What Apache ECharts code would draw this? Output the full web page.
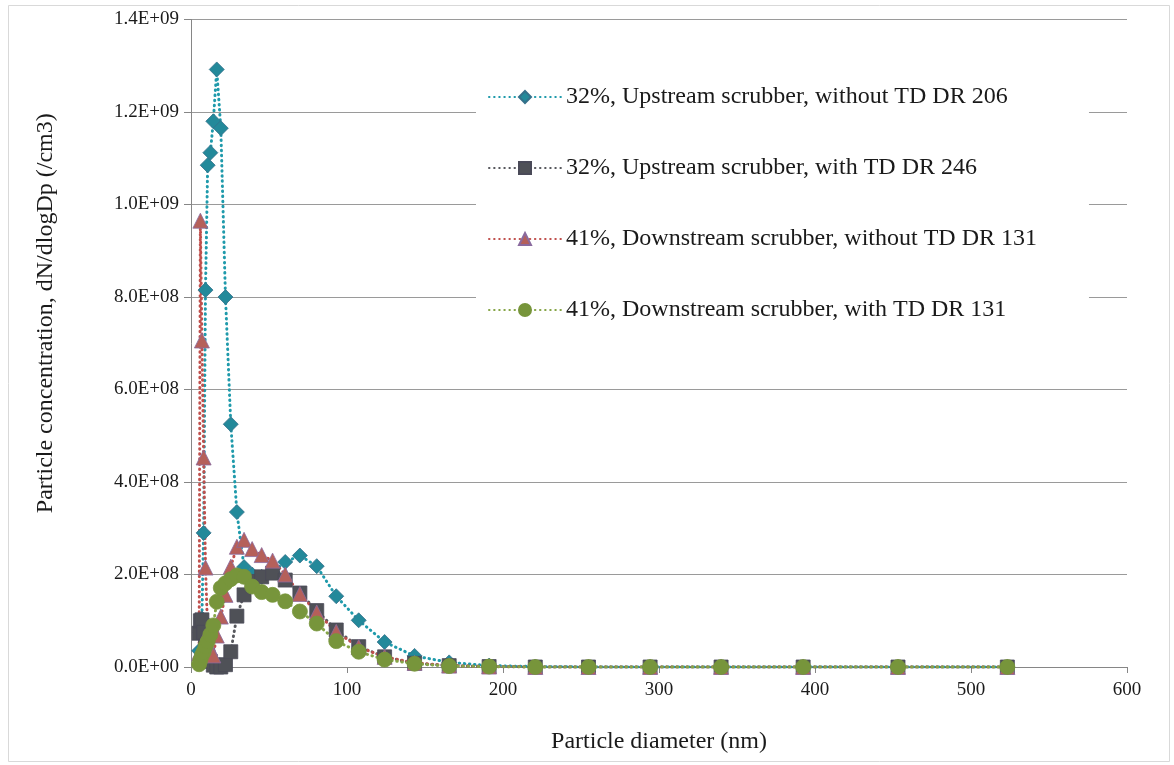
<!DOCTYPE html>
<html>
<head>
<meta charset="utf-8">
<script src="https://cdn.jsdelivr.net/npm/echarts@6/dist/echarts.min.js"></script>
<style>
  html, body { margin: 0; padding: 0; background: #ffffff; }
  #chart { width: 1174px; height: 765px; }
</style>
</head>
<body>
<div id="chart"></div>
<script>
// Particle diameter bins (nm), 16 channels per decade
const diameters = [5.2, 6.0, 7.0, 8.1, 9.3, 10.7, 12.4, 14.3, 16.5, 19.1, 22.1, 25.5, 29.4, 34.0,
  39.2, 45.3, 52.3, 60.4, 69.8, 80.6, 93.1, 107.5, 124.1, 143.3, 165.5, 191.1, 220.7, 254.8,
  294.3, 339.8, 392.4, 453.2, 523.3];

// dN/dlogDp (/cm3)
const upstreamWithoutTD = [0.35e8, 0.75e8, 1.05e8, 2.9e8, 8.15e8, 10.85e8, 11.12e8, 11.8e8, 12.92e8,
  11.65e8, 8.0e8, 5.25e8, 3.35e8, 2.16e8, 2.0e8, 1.95e8, 2.05e8, 2.27e8, 2.41e8, 2.18e8, 1.53e8,
  1.01e8, 0.54e8, 0.24e8, 0.1e8, 0.03e8, 0.01e8, 0, 0, 0, 0, 0, 0];
const upstreamWithTD = [0.73e8, 1.0e8, 1.02e8, 0.75e8, 0.45e8, 0.25e8, 0.12e8, 0.04e8, 0.0,
  0.0, 0.05e8, 0.33e8, 1.1e8, 1.56e8, 1.85e8, 1.95e8, 2.03e8, 1.88e8, 1.6e8, 1.22e8, 0.8e8,
  0.44e8, 0.22e8, 0.08e8, 0.03e8, 0.01e8, 0, 0, 0, 0, 0, 0, 0];
const downstreamWithoutTD = [0.3e8, 9.65e8, 7.06e8, 4.53e8, 2.15e8, 0.73e8, 0.4e8, 0.25e8, 0.68e8,
  1.09e8, 1.56e8, 2.17e8, 2.6e8, 2.75e8, 2.55e8, 2.42e8, 2.3e8, 2.0e8, 1.58e8, 1.18e8, 0.76e8,
  0.43e8, 0.22e8, 0.09e8, 0.03e8, 0.01e8, 0, 0, 0, 0, 0, 0, 0];
const downstreamWithTD = [0.06e8, 0.15e8, 0.25e8, 0.33e8, 0.45e8, 0.55e8, 0.7e8, 0.9e8, 1.41e8,
  1.71e8, 1.81e8, 1.9e8, 1.98e8, 1.95e8, 1.74e8, 1.62e8, 1.56e8, 1.42e8, 1.2e8, 0.94e8, 0.56e8,
  0.33e8, 0.16e8, 0.07e8, 0.02e8, 0.01e8, 0, 0, 0, 0, 0, 0, 0];

const seriesNames = [
  '32%, Upstream scrubber, without TD DR 206',
  '32%, Upstream scrubber, with TD DR 246',
  '41%, Downstream scrubber, without TD DR 131',
  '41%, Downstream scrubber, with TD DR 131'
];

const FONT = '"Liberation Serif", "DejaVu Serif", serif';
const TEXT_COLOR = '#1a1a1a';
const AXIS_GRAY = '#868686';

function pairs(values) {
  return diameters.map((d, i) => [d, values[i]]);
}

// 1.4E+09 style tick labels
function sci(v) {
  if (v === 0) return '0.0E+00';
  const e = Math.floor(Math.log10(v) + 1e-9);
  const m = v / Math.pow(10, e);
  return m.toFixed(1) + 'E+' + String(e).padStart(2, '0');
}

function dottedSeries(name, values, lineColor, symbol, size, fill, border) {
  return {
    name: name,
    type: 'line',
    data: pairs(values),
    symbol: symbol,
    symbolSize: size,
    showAllSymbol: true,
    lineStyle: { color: lineColor, width: 3, type: [0.5, 4.6], cap: 'round' },
    itemStyle: { color: fill, borderColor: border, borderWidth: 0.8 },
    emphasis: { disabled: true }
  };
}

const chart = echarts.init(document.getElementById('chart'), null, { renderer: 'canvas' });

chart.setOption({
  animation: false,
  backgroundColor: '#ffffff',
  graphic: [{
    type: 'rect',
    silent: true,
    z: -10,
    shape: { x: 8.5, y: 5.5, width: 1161, height: 756 },
    style: { fill: null, stroke: '#d9d9d9', lineWidth: 1 }
  }],
  grid: { left: 191, right: 47, top: 19.5, bottom: 98, containLabel: false },
  legend: {
    orient: 'vertical',
    left: 476,
    top: 72,
    itemWidth: 72,
    itemHeight: 15,
    itemGap: 45,
    padding: [12, 52, 12, 12],
    backgroundColor: '#ffffff',
    selectedMode: false,
    textStyle: { fontFamily: FONT, fontSize: 24, color: TEXT_COLOR, lineHeight: 26 },
    data: seriesNames
  },
  xAxis: {
    type: 'value',
    min: 0,
    max: 600,
    interval: 100,
    name: 'Particle diameter (nm)',
    nameLocation: 'middle',
    nameGap: 63,
    nameTextStyle: { fontFamily: FONT, fontSize: 24, color: TEXT_COLOR },
    axisLine: { show: true, lineStyle: { color: AXIS_GRAY, width: 1 } },
    axisTick: { show: true, inside: false, length: 6, lineStyle: { color: AXIS_GRAY } },
    axisLabel: { fontFamily: FONT, fontSize: 19, color: TEXT_COLOR, margin: 14 },
    splitLine: { show: false }
  },
  yAxis: {
    type: 'value',
    min: 0,
    max: 1.4e9,
    interval: 2e8,
    name: 'Particle concentration, dN/dlogDp (/cm3)',
    nameLocation: 'middle',
    nameRotate: 90,
    nameGap: 133,
    nameTextStyle: { fontFamily: FONT, fontSize: 24, color: TEXT_COLOR, padding: [0, 0, 0, 60] },
    axisLine: { show: true, lineStyle: { color: AXIS_GRAY, width: 1 } },
    axisTick: { show: true, inside: false, length: 7, lineStyle: { color: AXIS_GRAY } },
    axisLabel: { fontFamily: FONT, fontSize: 19, color: TEXT_COLOR, margin: 12, formatter: sci },
    splitLine: { show: true, lineStyle: { color: '#9a9a9a', width: 1 } }
  },
  series: [
    dottedSeries(seriesNames[0], upstreamWithoutTD, '#1f9aab', 'diamond', 15, '#23899a', '#35708a'),
    dottedSeries(seriesNames[1], upstreamWithTD, '#58595e', 'rect', 14, '#4f5157', '#4a4a58'),
    dottedSeries(seriesNames[2], downstreamWithoutTD, '#c0504d', 'triangle', 15, '#b5605a', '#8a6a9e'),
    dottedSeries(seriesNames[3], downstreamWithTD, '#86a547', 'circle', 15, '#77953b', '#77953b')
  ]
});
</script>
</body>
</html>
